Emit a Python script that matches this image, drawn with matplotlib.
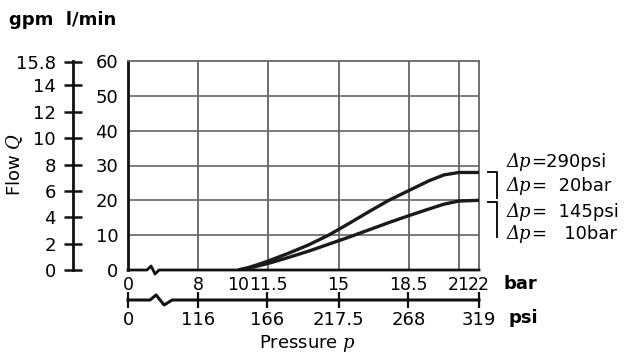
import matplotlib
matplotlib.use('Agg')
import matplotlib.pyplot as plt
from matplotlib.lines import Line2D
from matplotlib.transforms import blended_transform_factory

plt.rcParams['font.family'] = ['DejaVu Sans']
plt.rcParams['mathtext.fontset'] = 'custom'
plt.rcParams['mathtext.it'] = 'DejaVu Serif:italic'
plt.rcParams['mathtext.rm'] = 'DejaVu Sans'

# pressure in bar, flow in l/min
bar_20 = [10, 10.5, 11, 11.5, 12.5, 13.5, 14.5, 15.5, 16.5, 17.5, 18.5, 19.5, 20.25, 21, 22]
q_20 = [0, 0.7, 1.6, 2.6, 4.8, 7.2, 10.0, 13.3, 16.7, 20.0, 22.8, 25.6, 27.3, 28.0, 28.0]
bar_10 = [10, 10.5, 11, 11.5, 12.5, 13.5, 14.5, 15.5, 16.5, 17.5, 18.5, 19.5, 20.25, 21, 22]
q_10 = [0, 0.5, 1.2, 1.9, 3.6, 5.4, 7.4, 9.4, 11.5, 13.6, 15.6, 17.5, 18.9, 19.8, 20.0]

bar_ticks = [0, 8, 10, 11.5, 15, 18.5, 21, 22]
bar_labels = ['0', '8', '10', '11.5', '15', '18.5', '21', '22']
bar_grid = [8, 11.5, 15, 18.5, 21]
psi_ticks = [0, 116, 166, 217.5, 268, 319]
psi_labels = ['0', '116', '166', '217.5', '268', '319']
lmin_ticks = [0, 10, 20, 30, 40, 50, 60]
gpm_ticks = [0, 2, 4, 6, 8, 10, 12, 14, 15.8]
gpm_labels = ['0', '2', '4', '6', '8', '10', '12', '14', '15.8']
dp_text = ['=290psi', '=  20bar', '=  145psi', '=   10bar']

BAR_TO_PSI = 14.5
LMIN_PER_GPM = 3.785
X0 = 4.5  # axis start (after the break) drawn as "0"
W, H = 630, 359
FS = 13


def px(x, y):
    return x / W, 1 - y / H


def bar_pos(v):
    return X0 if v == 0 else v


fig = plt.figure(figsize=(W / 100, H / 100), dpi=100)
L, R, T, B = 128, 479, 61, 270
ax = fig.add_axes([L / W, 1 - B / H, (R - L) / W, (B - T) / H])
ax.set_xlim(X0, 22)
ax.set_ylim(0, 60)

for s in ['top', 'right']:
    ax.spines[s].set_color('#666666')
    ax.spines[s].set_linewidth(1.3)
ax.spines['left'].set_linewidth(2)
ax.spines['left'].set_color('#111111')
ax.spines['bottom'].set_visible(False)

# bottom spine with break symbol
xt = ax.get_xaxis_transform()
d = 1 / (B - T)
ax.plot([X0, 5.45, 5.65, 5.85, 6.05, 22], [0, 0, 4 * d, -4 * d, 0, 0], color='#111111',
        lw=2, transform=xt, clip_on=False, zorder=5)

for v in bar_grid:
    ax.axvline(v, color='#555555', lw=1.2, zorder=1)
for v in lmin_ticks[1:-1]:
    ax.axhline(v, color='#666666', lw=1.2, zorder=1)

ax.plot(bar_20, q_20, color='#1a1a1a', lw=2.4, solid_capstyle='butt', zorder=4)
ax.plot(bar_10, q_10, color='#1a1a1a', lw=2.4, solid_capstyle='butt', zorder=4)

ax.set_xticks([bar_pos(v) for v in bar_ticks])
ax.set_xticklabels(bar_labels, fontsize=12.5)
ax.tick_params(axis='x', length=0, pad=4)
ax.set_yticks(lmin_ticks)
ax.set_yticklabels([str(v) for v in lmin_ticks], fontsize=FS)
ax.tick_params(axis='y', length=0, pad=7)

# gpm axis
ax_g = fig.add_axes([73 / W, 1 - B / H, 0.001, (B - T) / H])
ax_g.set_ylim(0, 60 / LMIN_PER_GPM)
ax_g.set_xticks([])
for s in ['top', 'right', 'bottom']:
    ax_g.spines[s].set_visible(False)
ax_g.spines['left'].set_linewidth(2)
ax_g.spines['left'].set_color('#111111')
ax_g.patch.set_visible(False)
ax_g.set_yticks(gpm_ticks)
ax_g.set_yticklabels(gpm_labels, fontsize=FS)
ax_g.tick_params(axis='y', direction='inout', length=13, width=1.8, pad=6, color='#111111')

# psi axis
ax_p = fig.add_axes([L / W, 1 - 300 / H, (R - L) / W, 0.001])
ax_p.set_xlim(X0, 22)
ax_p.set_ylim(-1, 1)
ax_p.set_yticks([])
for s in ['top', 'right', 'left', 'bottom']:
    ax_p.spines[s].set_visible(False)
ax_p.patch.set_visible(False)
ax_p.plot([X0, 5.6, 5.9, 6.3, 6.7, 22], [0, 0, 14, -14, 0, 0], color='#111111', lw=2.2,
          transform=blended_transform_factory(ax_p.transData, ax_p.transAxes), clip_on=False)
ax_p.set_xticks([X0 if v == 0 else v / BAR_TO_PSI for v in psi_ticks])
ax_p.set_xticklabels(psi_labels, fontsize=FS)
ax_p.tick_params(axis='x', direction='inout', length=12, width=1.6, pad=2, color='#111111')

# unit labels
fig.text(*px(503, 284), 'bar', fontsize=FS, fontweight='bold', va='center', ha='left')
fig.text(*px(509, 318), 'psi', fontsize=FS, fontweight='bold', va='center', ha='left')
fig.text(*px(9, 20), 'gpm  l/min', fontsize=FS, fontweight='bold', va='center', ha='left')
fig.text(*px(307, 344), r'Pressure $\mathit{p}$', fontsize=FS, va='center', ha='center')
fig.text(*px(15, 165), r'Flow $\mathit{Q}$', fontsize=FS, va='center', ha='center', rotation=90)

# brackets and delta-p labels
for y0, y1 in [(172, 198), (202, 237)]:
    fig.add_artist(Line2D([488 / W, 497 / W, 497 / W], [1 - y0 / H, 1 - y0 / H, 1 - y1 / H],
                          color='#111111', lw=1.4))
dp_y = [162, 186, 212, 234]
for t, y in zip(dp_text, dp_y):
    lead = fig.text(*px(507, y + 5), 'Δp', fontsize=FS, family='DejaVu Serif',
                    style='italic', va='baseline', ha='left')
    ax.annotate(t, xy=(1, 0), xycoords=lead, xytext=(0, 0), textcoords='offset points',
                fontsize=FS, va='bottom', ha='left', annotation_clip=False)

fig.savefig('out.png', dpi=100)
